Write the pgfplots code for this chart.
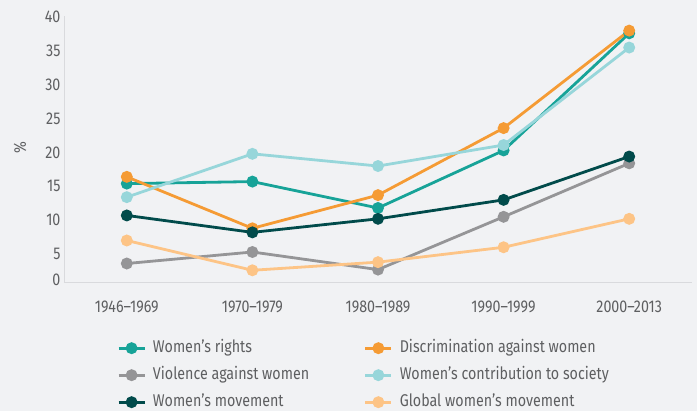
\documentclass[border=0pt]{standalone}
\usepackage{fontspec}
\setmainfont{Fira Sans}[FakeStretch=0.84]
\usepackage{pgfplots}
\pgfplotsset{compat=1.18}
\definecolor{bg}{HTML}{F1F2F4}
\definecolor{axgray}{HTML}{D9DADD}
\definecolor{txt}{HTML}{5E5F61}
\definecolor{cteal}{HTML}{17A398}
\definecolor{corange}{HTML}{F59B34}
\definecolor{cgray}{HTML}{959597}
\definecolor{clblue}{HTML}{97D6DA}
\definecolor{cdark}{HTML}{014B4B}
\definecolor{clorange}{HTML}{FDC486}
\begin{document}
\begin{tikzpicture}
\fill[bg] (-64pt,-129pt) rectangle (633pt,282pt);
\begin{axis}[
  at={(0pt,0pt)}, anchor=south west,
  width=628pt, height=266pt, scale only axis,
  xmin=-0.5, xmax=4.5, ymin=0.87, ymax=40.16,
  xtick={0,1,2,3,4},
  xticklabels={1946--1969,1970--1979,1980--1989,1990--1999,2000--2013},
  ytick={5,10,...,40},
  extra y ticks={1.2}, extra y tick labels={0},
  axis lines=left,
  axis line style={draw=axgray, line width=0.8pt, -},
  major tick length=0pt,
  tick label style={font=\fontsize{17}{19}\selectfont, text=txt},
  xticklabel style={yshift=-15pt},
  /pgf/number format/assume math mode=true,
  ylabel={\%},
  ylabel style={at={(axis description cs:-0.070,0.504)}, anchor=center, font=\fontsize{17}{19}\selectfont, text=txt},
  clip=false,
  every axis plot/.append style={line width=2.8pt, mark=*, mark size=4.5pt},
  legend columns=2,
  legend cell align=left,
  legend style={at={(axis description cs:0.0844,-0.218)}, anchor=north west,
    draw=none, fill=none, inner sep=0pt, row sep=11pt,
    font=\fontsize{17}{20}\selectfont, text=txt,
    nodes={inner sep=0pt, text height=12pt, text depth=4pt},
    /tikz/every odd column/.append style={column sep=7pt}},
  legend image code/.code={\draw[mark repeat=2,mark phase=2,#1] plot coordinates {(0pt,0pt) (13pt,0pt) (26pt,0pt)};},
]
\addplot[color=cteal] coordinates {(0,15.4) (1,15.7) (2,11.8) (3,20.3) (4,37.6)};
\addlegendentry{\makebox[211pt][l]{Women's rights}}
\addplot[color=corange] coordinates {(0,16.4) (1,8.8) (2,13.7) (3,23.6) (4,38.0)};
\addlegendentry{Discrimination against women}
\addplot[color=cgray] coordinates {(0,3.6) (1,5.3) (2,2.7) (3,10.5) (4,18.4)};
\addlegendentry{\makebox[211pt][l]{Violence against women}}
\addplot[color=clblue] coordinates {(0,13.4) (1,19.8) (2,18.0) (3,21.1) (4,35.5)};
\addlegendentry{Women's contribution to society}
\addplot[color=cdark] coordinates {(0,10.7) (1,8.2) (2,10.2) (3,13.0) (4,19.4)};
\addlegendentry{\makebox[211pt][l]{Women's movement}}
\addplot[color=clorange] coordinates {(0,7.0) (1,2.6) (2,3.8) (3,6.0) (4,10.2)};
\addlegendentry{Global women's movement}
\end{axis}
\end{tikzpicture}
\end{document}
